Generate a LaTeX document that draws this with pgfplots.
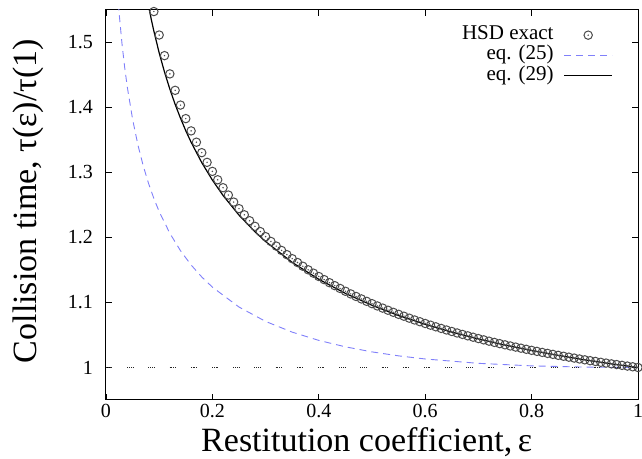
\documentclass[border=0pt]{standalone}
\usepackage{fontspec}
\setmainfont{Liberation Serif}
\usepackage{pgfplots}
\pgfplotsset{compat=1.18}
\pgfdeclareplotmark{odot}{%
  \pgfpathcircle{\pgfpointorigin}{\pgfplotmarksize}\pgfusepathqstroke
  \pgfpathcircle{\pgfpointorigin}{0.8pt}\pgfusepathqfill}
\definecolor{dashblue}{RGB}{128,128,250}
\definecolor{markgray}{RGB}{75,75,75}
\pgfplotsset{
  lineleg/.style={legend image code/.code={\draw[##1] (0pt,0pt) -- (48pt,0pt);}},
  markleg/.style={legend image code/.code={\path (0pt,0pt) (48pt,0pt); \draw[##1] plot coordinates {(24pt,0pt)};}},
}
\begin{document}
\begin{tikzpicture}
\begin{axis}[name=ax,
  scale only axis, width=532pt, height=390pt,
  xmin=0, xmax=1, ymin=0.95, ymax=1.55,
  xtick={0,0.2,0.4,0.6,0.8,1}, ytick={1,1.1,1.2,1.3,1.4,1.5},
  xticklabels={0,0.2,0.4,0.6,0.8,1},
  yticklabels={1,1.1,1.2,1.3,1.4,1.5},
  tick align=inside, major tick length=6pt,
  tick style={black, line width=0.8pt},
  axis line style={line width=1pt},
  minor tick num=0,
  /pgf/number format/assume math mode=true,
  ticklabel style={font=\fontsize{20}{24}\selectfont, inner sep=0pt},
  yticklabel style={xshift=-13pt},
  xticklabel style={yshift=-4pt},
  xlabel={Restitution coefficient,\,ε},
  ylabel={Collision time, τ(ε)/τ(1)},
  every axis x label/.style={at={(axis description cs:0.49,-0.1308)}, anchor=base, font=\fontsize{34}{38}\selectfont},
  every axis y label/.style={at={(axis description cs:-0.1297,0.51)}, rotate=90, anchor=base, font=\fontsize{34}{38}\selectfont},
  legend plot pos=right, legend cell align=right,
  legend style={draw=none, fill=none, at={(axis description cs:0.953,0.962)}, anchor=north east,
    inner sep=0pt, row sep=0pt, column sep=10pt, font=\fontsize{21}{21}\selectfont,
    nodes={inner sep=0pt, text height=14.5pt, text depth=5.8pt}},
]
\addplot[only marks, mark=odot, mark size=4.2pt, mark options={draw=markgray, fill=markgray, line width=1pt}, markleg]
coordinates {
(0.09,1.5476)(0.10,1.5115)(0.11,1.4798)(0.12,1.4517)(0.13,1.4264)(0.14,1.4037)(0.15,1.3829)(0.16,1.3640)(0.17,1.3466)(0.18,1.3305)
(0.19,1.3156)(0.20,1.3017)(0.21,1.2888)(0.22,1.2766)(0.23,1.2653)(0.24,1.2545)(0.25,1.2444)(0.26,1.2349)(0.27,1.2258)(0.28,1.2172)
(0.29,1.2091)(0.30,1.2013)(0.31,1.1939)(0.32,1.1868)(0.33,1.1801)(0.34,1.1736)(0.35,1.1674)(0.36,1.1615)(0.37,1.1558)(0.38,1.1503)
(0.39,1.1451)(0.40,1.1400)(0.41,1.1352)(0.42,1.1305)(0.43,1.1259)(0.44,1.1216)(0.45,1.1173)(0.46,1.1132)(0.47,1.1093)(0.48,1.1055)
(0.49,1.1018)(0.50,1.0982)(0.51,1.0947)(0.52,1.0914)(0.53,1.0881)(0.54,1.0849)(0.55,1.0818)(0.56,1.0789)(0.57,1.0759)(0.58,1.0731)
(0.59,1.0704)(0.60,1.0677)(0.61,1.0651)(0.62,1.0626)(0.63,1.0601)(0.64,1.0577)(0.65,1.0554)(0.66,1.0531)(0.67,1.0509)(0.68,1.0487)
(0.69,1.0466)(0.70,1.0445)(0.71,1.0425)(0.72,1.0405)(0.73,1.0386)(0.74,1.0367)(0.75,1.0349)(0.76,1.0331)(0.77,1.0314)(0.78,1.0297)
(0.79,1.0280)(0.80,1.0264)(0.81,1.0248)(0.82,1.0232)(0.83,1.0217)(0.84,1.0202)(0.85,1.0187)(0.86,1.0173)(0.87,1.0159)(0.88,1.0145)
(0.89,1.0131)(0.90,1.0118)(0.91,1.0105)(0.92,1.0093)(0.93,1.0080)(0.94,1.0068)(0.95,1.0056)(0.96,1.0045)(0.97,1.0033)(0.98,1.0022)
(0.99,1.0011)(1.00,1.0000)
};
\addlegendentry{HSD exact}
\addplot[dashblue, line width=0.9pt, dash pattern=on 7pt off 5pt, lineleg]
coordinates {
(0.02,1.5971)(0.025,1.5423)(0.03,1.4986)(0.035,1.4624)(0.04,1.4317)(0.05,1.3818)(0.06,1.3424)(0.07,1.3102)(0.08,1.2831)
(0.09,1.2600)(0.10,1.2398)(0.12,1.2065)(0.14,1.1797)(0.16,1.1577)(0.18,1.1393)(0.20,1.1236)(0.25,1.0930)(0.30,1.0709)
(0.35,1.0544)(0.40,1.0417)(0.45,1.0318)(0.50,1.0240)(0.55,1.0179)(0.60,1.0131)(0.70,1.0064)(0.80,1.0025)(0.90,1.0006)(1.00,1.0000)
};
\addlegendentry{eq. (25)}
\addplot[black, line width=1.2pt, lineleg]
coordinates {
(0.08,1.5560)(0.085,1.5360)(0.09,1.5174)(0.10,1.4839)(0.11,1.4545)(0.12,1.4283)(0.13,1.4048)(0.14,1.3836)(0.15,1.3642)
(0.16,1.3466)(0.18,1.3152)(0.20,1.2883)(0.22,1.2647)(0.25,1.2344)(0.28,1.2088)(0.30,1.1938)(0.35,1.1617)(0.40,1.1357)
(0.45,1.1140)(0.50,1.0957)(0.55,1.0800)(0.60,1.0664)(0.65,1.0544)(0.70,1.0439)(0.75,1.0345)(0.80,1.0261)(0.85,1.0186)
(0.90,1.0118)(0.95,1.0056)(1.00,1.0000)
};
\addlegendentry{eq. (29)}
\addplot[forget plot, black!85, line width=0.6pt,
  dash pattern=on 0.8pt off 1pt on 0.8pt off 1pt on 0.8pt off 1pt on 0.8pt off 15pt]
coordinates {(0,1) (1,1)};
\end{axis}
\pgfresetboundingbox
\path[use as bounding box] ([xshift=-106pt,yshift=-59pt]ax.south west) rectangle ([xshift=4pt,yshift=10pt]ax.north east);
\end{tikzpicture}
\end{document}
